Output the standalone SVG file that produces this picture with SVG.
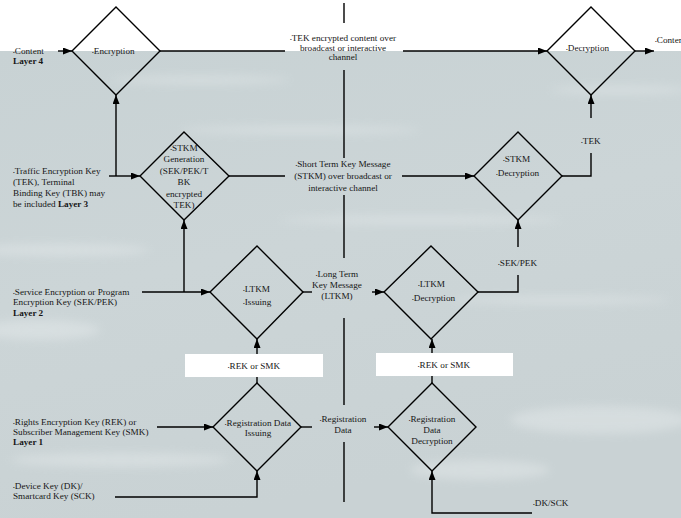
<svg xmlns="http://www.w3.org/2000/svg" width="681" height="518" viewBox="0 0 681 518">
<style>
.ln{fill:none;stroke:#000;stroke-width:1.4}
.dm{fill:none;stroke:#000;stroke-width:1.4}
text{font-family:"Liberation Serif","Times New Roman",serif;font-size:9.2px;fill:#161616}
.m{text-anchor:middle}
.b{font-weight:bold}
.bu{font-size:5px}
.box{fill:#fff;stroke:none}
</style>
<defs>
<marker id="ah" viewBox="0 0 9 7" refX="9" refY="3.5" markerWidth="9" markerHeight="7" markerUnits="userSpaceOnUse" orient="auto"><path d="M0,0 L9,3.5 L0,7 z" fill="#000"/></marker>
<linearGradient id="bg" x1="0" y1="0" x2="0.3" y2="1">
<stop offset="0" stop-color="#c8d2d4"/>
<stop offset="0.5" stop-color="#ccd5d7"/>
<stop offset="1" stop-color="#c9d2d4"/>
</linearGradient>
<filter id="bl" x="-20%" y="-80%" width="140%" height="260%"><feGaussianBlur stdDeviation="5"/></filter>
</defs>
<rect x="0" y="0" width="681" height="518" fill="#fff"/>
<rect x="0" y="51" width="681" height="467" fill="url(#bg)"/>
<g filter="url(#bl)" fill="#eef2f3" opacity="0.35">
<ellipse cx="60" cy="250" rx="90" ry="6"/>
<ellipse cx="40" cy="330" rx="60" ry="10"/>
<ellipse cx="300" cy="130" rx="120" ry="4"/>
<ellipse cx="420" cy="220" rx="140" ry="4"/>
<ellipse cx="560" cy="300" rx="110" ry="4"/>
<ellipse cx="600" cy="420" rx="90" ry="14"/>
<ellipse cx="480" cy="470" rx="70" ry="10"/>
<ellipse cx="120" cy="460" rx="110" ry="7"/>
<ellipse cx="620" cy="90" rx="70" ry="4"/>
<ellipse cx="200" cy="80" rx="90" ry="4"/>
</g>
<g id="connectors">
<path class="ln" d="M58,51 H72" marker-end="url(#ah)"/>
<path class="ln" d="M160,51 H285"/>
<path class="ln" d="M403,51 H547" marker-end="url(#ah)"/>
<path class="ln" d="M635,51 H654" marker-end="url(#ah)"/>
<path class="ln" d="M109,176 H140" marker-end="url(#ah)"/>
<path class="ln" d="M116,176 V95" marker-end="url(#ah)"/>
<path class="ln" d="M229,176 H285"/>
<path class="ln" d="M402,176 H474" marker-end="url(#ah)"/>
<path class="ln" d="M562,176 H591 V153"/>
<path class="ln" d="M591,118 V95" marker-end="url(#ah)"/>
<path class="ln" d="M142,292 H210" marker-end="url(#ah)"/>
<path class="ln" d="M184,292 V220" marker-end="url(#ah)"/>
<path class="ln" d="M303,292 H312"/>
<path class="ln" d="M372,292 H384" marker-end="url(#ah)"/>
<path class="ln" d="M478,292 H518 V275"/>
<path class="ln" d="M518,247 V220" marker-end="url(#ah)"/>
<path class="ln" d="M257,383 V339" marker-end="url(#ah)"/>
<path class="ln" d="M432,383 V339" marker-end="url(#ah)"/>
<path class="ln" d="M157,427 H213" marker-end="url(#ah)"/>
<path class="ln" d="M115,497 H257 V471" marker-end="url(#ah)"/>
<path class="ln" d="M301,427 H312"/>
<path class="ln" d="M374,427 H388" marker-end="url(#ah)"/>
<path class="ln" d="M532,513 H432 V471" marker-end="url(#ah)"/>
<path class="ln" d="M344,3 V23 M344,70 V158 M344,195 V258 M344,318 V405 M344,442 V502"/>
<text class="m" x="343" y="41"><tspan class="bu">•</tspan>TEK encrypted content over</text>
<text class="m" x="343" y="51">broadcast or interactive</text>
<text class="m" x="343" y="60">channel</text>
<text class="m" x="343" y="167"><tspan class="bu">•</tspan>Short Term Key Message</text>
<text class="m" x="343" y="179">(STKM) over broadcast or</text>
<text class="m" x="343" y="191">interactive channel</text>
<text class="m" x="337" y="277"><tspan class="bu">•</tspan>Long Term</text>
<text class="m" x="337" y="288">Key Message</text>
<text class="m" x="337" y="299">(LTKM)</text>
<text class="m" x="343" y="422"><tspan class="bu">•</tspan>Registration</text>
<text class="m" x="343" y="433">Data</text>
<text x="581" y="144"><tspan class="bu">•</tspan>TEK</text>
<text x="498" y="266"><tspan class="bu">•</tspan>SEK/PEK</text>
<text x="533" y="506"><tspan class="bu">•</tspan>DK/SCK</text>
<text x="655" y="43"><tspan class="bu">•</tspan>Content</text>
</g>
<g id="rek-box-left">
<rect class="box" x="185" y="354" width="138" height="23"/>
<text class="m" x="254" y="369"><tspan class="bu">•</tspan>REK or SMK</text>
</g>
<g id="rek-box-right">
<rect class="box" x="376" y="353" width="137" height="23"/>
<text class="m" x="444" y="368"><tspan class="bu">•</tspan>REK or SMK</text>
</g>
<g id="content-in">
<text x="13" y="54"><tspan class="bu">•</tspan>Content</text>
<text class="b" x="13" y="64">Layer 4</text>
</g>
<g id="encryption">
<path class="dm" d="M116,7 L160,51 L116,95 L72,51 Z"/>
<text x="92" y="54"><tspan class="bu">•</tspan>Encryption</text>
</g>
<g id="decryption">
<path class="dm" d="M591,7 L635,51 L591,95 L547,51 Z"/>
<text x="566" y="51"><tspan class="bu">•</tspan>Decryption</text>
</g>
<g id="tek-source">
<text x="13" y="174"><tspan class="bu">•</tspan>Traffic Encryption Key</text>
<text x="13" y="185">(TEK), Terminal</text>
<text x="13" y="196">Binding Key (TBK) may</text>
<text x="13" y="207">be included <tspan class="b">Layer 3</tspan></text>
</g>
<g id="stkm-generation">
<path class="dm" d="M184,132 L229,176 L184,220 L140,176 Z"/>
<text class="m" x="184" y="151"><tspan class="bu">•</tspan>STKM</text>
<text class="m" x="184" y="162">Generation</text>
<text class="m" x="184" y="174">(SEK/PEK/T</text>
<text class="m" x="184" y="185">BK</text>
<text class="m" x="184" y="197">encrypted</text>
<text class="m" x="184" y="208">TEK)</text>
</g>
<g id="stkm-decryption">
<path class="dm" d="M518,132 L562,176 L518,220 L474,176 Z"/>
<text x="503" y="162"><tspan class="bu">•</tspan>STKM</text>
<text x="496" y="176"><tspan class="bu">•</tspan>Decryption</text>
</g>
<g id="sek-source">
<text x="13" y="295"><tspan class="bu">•</tspan>Service Encryption or Program</text>
<text x="13" y="305">Encryption Key (SEK/PEK)</text>
<text class="b" x="13" y="316">Layer 2</text>
</g>
<g id="ltkm-issuing">
<path class="dm" d="M257,246 L303,292 L257,339 L210,292 Z"/>
<text x="243" y="292"><tspan class="bu">•</tspan>LTKM</text>
<text x="243" y="305"><tspan class="bu">•</tspan>Issuing</text>
</g>
<g id="ltkm-decryption">
<path class="dm" d="M431,246 L478,292 L431,339 L384,292 Z"/>
<text x="418" y="287"><tspan class="bu">•</tspan>LTKM</text>
<text x="412" y="301"><tspan class="bu">•</tspan>Decryption</text>
</g>
<g id="rek-source">
<text x="13" y="425"><tspan class="bu">•</tspan>Rights Encryption Key (REK) or</text>
<text x="13" y="435">Subscriber Management Key (SMK)</text>
<text class="b" x="13" y="445">Layer 1</text>
</g>
<g id="dk-source">
<text x="13" y="489"><tspan class="bu">•</tspan>Device Key (DK)/</text>
<text x="13" y="499">Smartcard Key (SCK)</text>
</g>
<g id="registration-issuing">
<path class="dm" d="M257,383 L301,427 L257,471 L213,427 Z"/>
<text class="m" x="258" y="426"><tspan class="bu">•</tspan>Registration Data</text>
<text class="m" x="258" y="436">Issuing</text>
</g>
<g id="registration-decryption">
<path class="dm" d="M432,383 L476,427 L432,471 L388,427 Z"/>
<text class="m" x="432" y="422"><tspan class="bu">•</tspan>Registration</text>
<text class="m" x="432" y="433">Data</text>
<text class="m" x="432" y="444">Decryption</text>
</g>
</svg>
